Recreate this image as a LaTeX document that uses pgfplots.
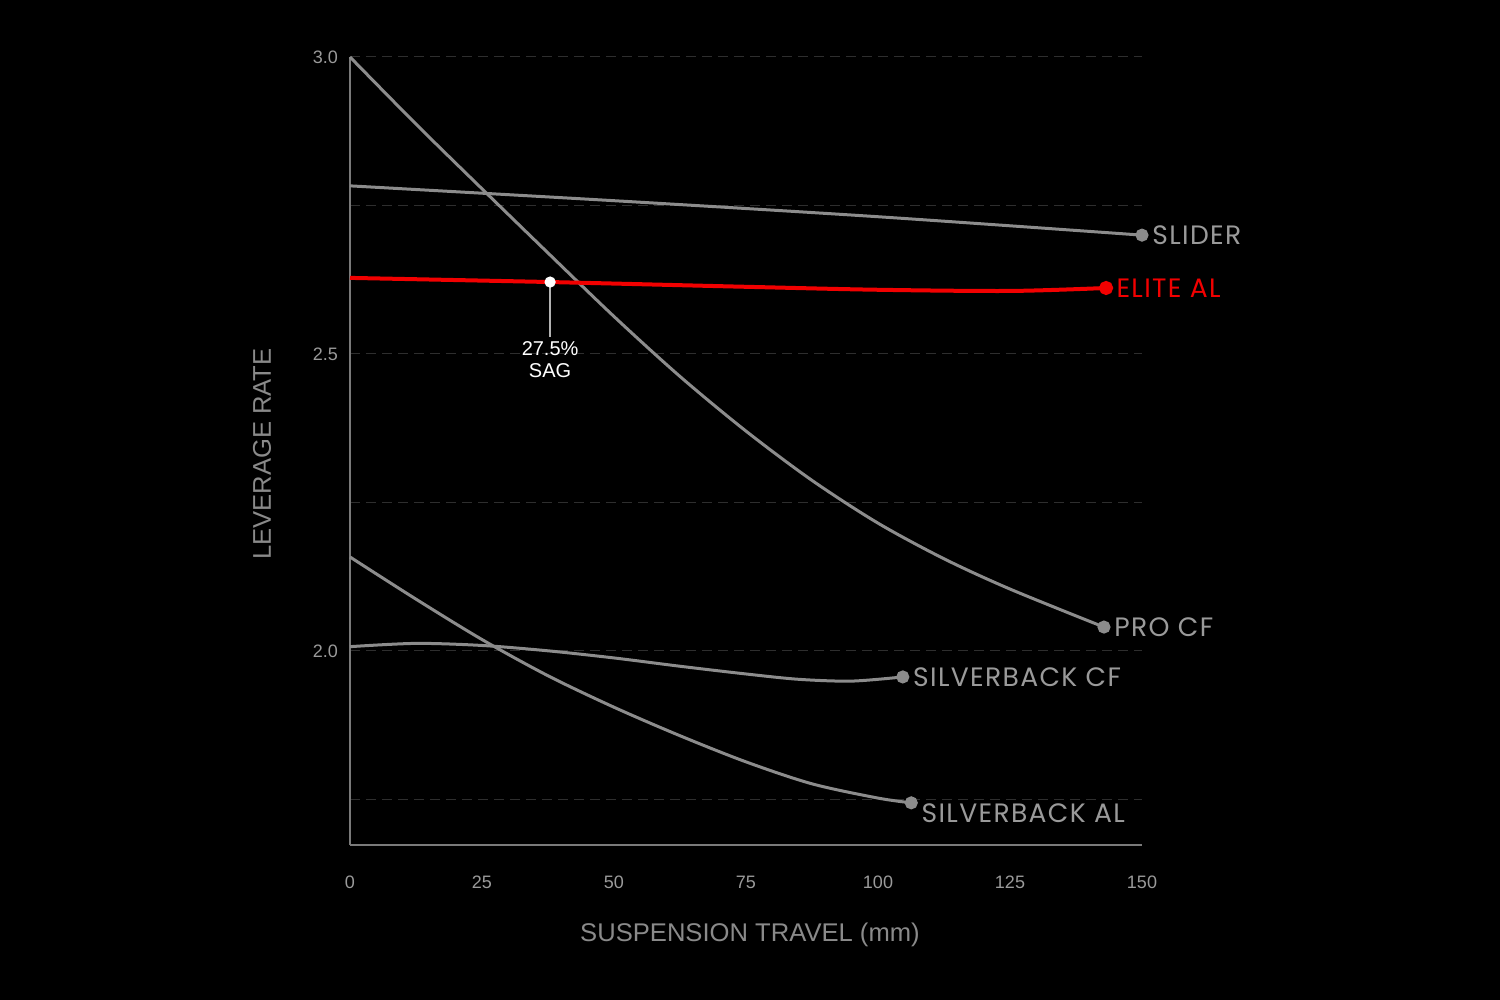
\documentclass[border=0pt]{standalone}
\usepackage{fontspec}
\setmainfont{Liberation Sans}
\newfontfamily\mont[LetterSpace=5]{Poppins}
\usepackage{pgfplots}
\pgfplotsset{compat=1.18}

\definecolor{linegray}{HTML}{8C8C8C}
\definecolor{txtgray}{HTML}{9A9A9A}
\definecolor{lblgray}{HTML}{8A8A8A}
\definecolor{gridgray}{HTML}{2E2E2E}
\definecolor{axisgray}{HTML}{7A7A7A}
\definecolor{elitered}{HTML}{F20000}

\begin{document}
\begin{tikzpicture}
% black page, 1px = 0.5pt
\fill[black] (-175pt,-77.5pt) rectangle (575pt,422.5pt);
\begin{axis}[
    at={(0,0)}, anchor=south west,
    scale only axis,
    width=396pt, height=394pt,
    xmin=0, xmax=150,
    ymin=1.673, ymax=3.0,
    clip=false,
    axis lines=left,
    axis line style={-, draw=axisgray, line width=0.75pt},
    xtick={0,25,...,150},
    ytick={2,2.5,3},
    minor ytick={1.75,2.25,2.75},
    major tick length=0pt, minor tick length=0pt,
    ymajorgrids, yminorgrids,
    major grid style={draw=gridgray, line width=0.5pt, dash pattern=on 5pt off 3pt},
    minor grid style={draw=gridgray, line width=0.5pt, dash pattern=on 5pt off 3pt},
    /pgf/number format/assume math mode=true,
    tick label style={font=\fontsize{9}{10}\selectfont, text=txtgray},
    yticklabel style={/pgf/number format/fixed, /pgf/number format/fixed zerofill,
        /pgf/number format/precision=1, xshift=-2.5pt},
    xticklabel style={yshift=-12pt},
    xlabel={SUSPENSION TRAVEL (mm)},
    ylabel={LEVERAGE RATE},
    every axis x label/.style={at={(axis description cs:0.505,0)}, anchor=center,
        yshift=-45pt, font=\fontsize{12.8}{14}\selectfont, text=lblgray},
    every axis y label/.style={at={(axis description cs:-0.111,0.496)}, anchor=center,
        rotate=90, font=\fontsize{12.8}{14}\selectfont, text=lblgray},
]
% PRO CF
\addplot[linegray, line width=1.5pt, smooth, mark=*, mark indices={12},
    mark options={fill=linegray, draw=linegray}, mark size=2.5pt]
coordinates {(0,3.000) (12.5,2.887) (25,2.778) (37.5,2.670) (50,2.563)
    (62.5,2.462) (75,2.370) (87.5,2.287) (100,2.215) (112.5,2.155)
    (125,2.104) (142.8,2.040)};
% SLIDER
\addplot[linegray, line width=1.5pt, smooth, mark=*, mark indices={4},
    mark options={fill=linegray, draw=linegray}, mark size=2.5pt]
coordinates {(0,2.783) (50,2.758) (100,2.731) (150,2.700)};
% SILVERBACK CF
\addplot[linegray, line width=1.5pt, smooth, mark=*, mark indices={10},
    mark options={fill=linegray, draw=linegray}, mark size=2.5pt]
coordinates {(0,2.007) (12.5,2.0125) (25,2.009) (37.5,2.000) (50,1.988)
    (62.5,1.974) (75,1.961) (85,1.952) (95,1.949) (104.7,1.956)};
% SILVERBACK AL
\addplot[linegray, line width=1.5pt, smooth, mark=*, mark indices={10},
    mark options={fill=linegray, draw=linegray}, mark size=2.5pt]
coordinates {(0,2.158) (12.5,2.087) (25,2.019) (37.5,1.958) (50,1.905)
    (62.5,1.857) (75,1.813) (87.5,1.776) (100,1.752) (106.3,1.744)};
% ELITE AL
\addplot[elitered, line width=2pt, smooth, mark=*, mark indices={6},
    mark options={fill=elitered, draw=elitered}, mark size=2.5pt]
coordinates {(0,2.628) (37.9,2.621) (75,2.613) (100,2.608) (125,2.606) (143.2,2.611)};
% sag marker
\addplot[draw=white!70!black, line width=0.75pt] coordinates {(37.9,2.621) (37.9,2.5286)};
\addplot[only marks, mark=*, mark size=2.6pt, mark options={fill=white, draw=white}]
coordinates {(37.9,2.621)};
\node[anchor=north, align=center, inner sep=2pt, text=white,
    font=\fontsize{10}{11}\selectfont] at (axis cs:37.9,2.5286) {27.5\%\\SAG};

% series names
\tikzset{serieslbl/.style={anchor=west, inner sep=0pt, xshift=5pt,
    font=\mont\fontsize{13.3}{15}\selectfont, text=txtgray}}
\node[serieslbl] at (axis cs:150,2.700) {SLIDER};
\node[serieslbl, text=elitered] at (axis cs:143.2,2.611) {ELITE AL};
\node[serieslbl] at (axis cs:142.8,2.040) {PRO CF};
\node[serieslbl] at (axis cs:104.7,1.956) {SILVERBACK CF};
\node[serieslbl, yshift=-5pt] at (axis cs:106.3,1.744) {SILVERBACK AL};
\end{axis}
\end{tikzpicture}
\end{document}
